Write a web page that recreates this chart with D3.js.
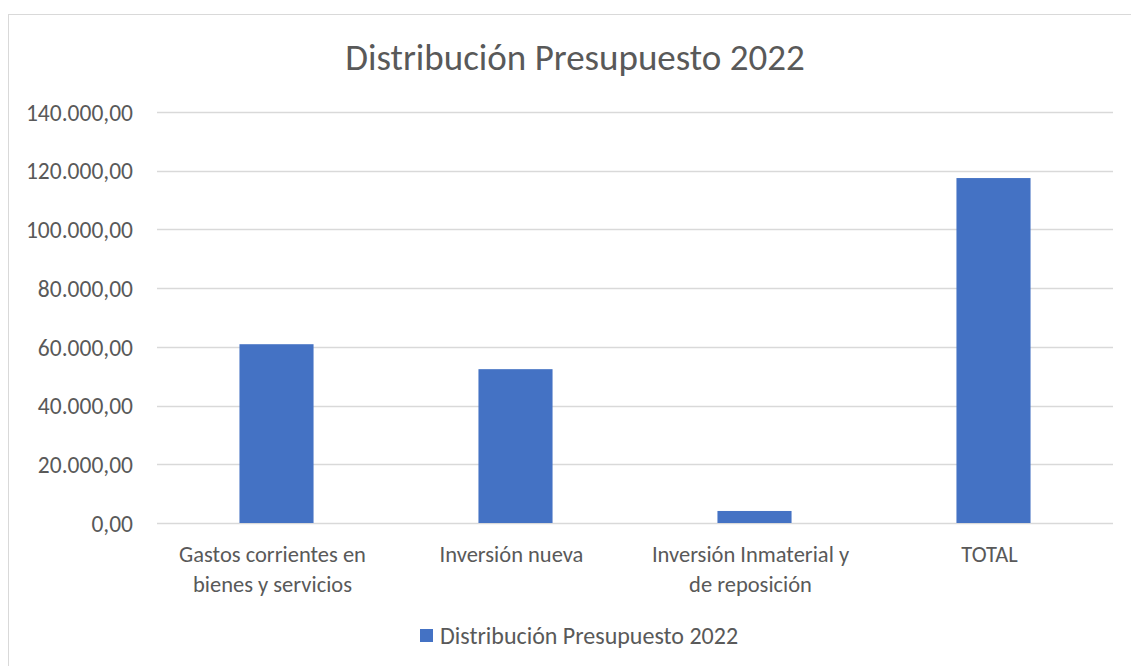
<!DOCTYPE html>
<html>
<head>
<meta charset="utf-8">
<script src="https://cdn.jsdelivr.net/npm/d3@7"></script>
<style>
  body { margin: 0; background: #fff; }
  text { font-family: Carlito, Calibri, Lato, "Liberation Sans", Arial, sans-serif; }
</style>
</head>
<body>
<div id="chart"></div>
<script>
// Data
const categories = [
    ["Gastos corrientes en", "bienes y servicios"],
    ["Inversión nueva"],
    ["Inversión Inmaterial y", "de reposición"],
    ["TOTAL"]
];
const values = [60900, 52400, 4100, 117500];
const yTicks = [0, 20000, 40000, 60000, 80000, 100000, 120000, 140000];
const seriesName = "Distribución Presupuesto 2022";
const chartTitle = "Distribución Presupuesto 2022";

const width = 1131, height = 666;
const margin = { left: 157, right: 18, top: 112, bottom: 143 };

const svg = d3.select("#chart")
    .append("svg")
    .attr("width", width)
    .attr("height", height);

// chart frame
svg.append("rect")
    .attr("x", 8.5).attr("y", 14.5)
    .attr("width", width + 10).attr("height", height)
    .attr("fill", "#fff")
    .attr("stroke", "#d9d9d9");

const fmt = d => d3.format(",.2f")(d).replace(/,/g, "X").replace(".", ",").replace(/X/g, ".");

const x = d3.scaleBand()
    .domain(d3.range(categories.length))
    .range([margin.left, width - margin.right])
    .paddingInner(0.69)
    .paddingOuter(0.345);

const y = d3.scaleLinear()
    .domain([0, 140000])
    .range([height - margin.bottom, margin.top]);

// gridlines
svg.append("g")
    .selectAll("line")
    .data(yTicks)
    .enter()
    .append("line")
        .attr("x1", margin.left)
        .attr("x2", width - margin.right)
        .attr("y1", d => Math.round(y(d)) + 0.5)
        .attr("y2", d => Math.round(y(d)) + 0.5)
        .attr("stroke", "#d9d9d9")
        .attr("stroke-width", 1.3);

// y axis labels
const yAxis = svg.append("g")
    .attr("transform", `translate(${margin.left - 24}, 0)`)
    .call(d3.axisLeft(y).tickValues(yTicks).tickFormat(fmt).tickSize(0).tickPadding(0));
yAxis.select(".domain").remove();
yAxis.selectAll("text")
    .attr("fill", "#595959")
    .style("font-size", "23.5px")
    .attr("dy", "0.35em");

// bars
svg.append("g")
    .selectAll("rect")
    .data(values)
    .enter()
    .append("rect")
        .attr("x", (d, i) => x(i))
        .attr("y", d => y(d))
        .attr("width", x.bandwidth())
        .attr("height", d => y(0) - y(d))
        .attr("fill", "#4472c4");

// x labels
const xl = svg.append("g")
    .selectAll("text")
    .data(categories)
    .enter()
    .append("text")
        .attr("x", (d, i) => x(i) + x.bandwidth() / 2 - 4)
        .attr("y", 562)
        .attr("text-anchor", "middle")
        .attr("fill", "#595959")
        .style("font-size", "22.5px");
xl.selectAll("tspan")
    .data(d => d)
    .enter()
    .append("tspan")
        .attr("x", function () { return d3.select(this.parentNode).attr("x"); })
        .attr("dy", (d, i) => i === 0 ? 0 : 30)
        .text(d => d);

// title
svg.append("text")
    .attr("x", 575)
    .attr("y", 70)
    .attr("text-anchor", "middle")
    .attr("fill", "#595959")
    .style("font-size", "37px")
    .text(chartTitle);

// legend
const lg = svg.append("g").attr("transform", "translate(420, 629)");
lg.append("rect")
    .attr("width", 13).attr("height", 13)
    .attr("fill", "#4472c4");
lg.append("text")
    .attr("x", 20).attr("y", 15)
    .attr("fill", "#595959")
    .style("font-size", "24px")
    .text(seriesName);
</script>
</body>
</html>
